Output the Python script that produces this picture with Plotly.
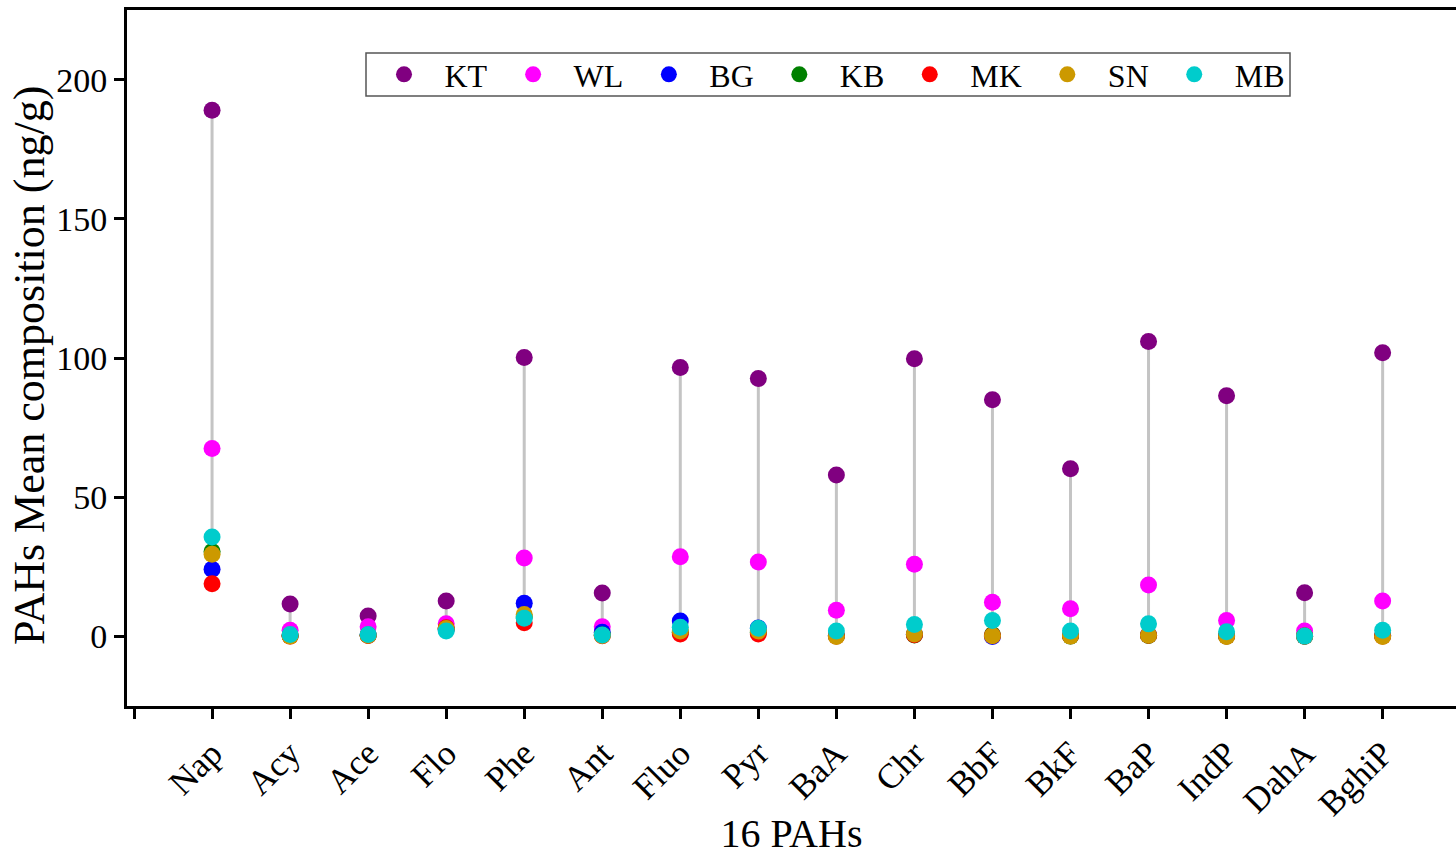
import plotly.graph_objects as go

categories = ["Nap", "Acy", "Ace", "Flo", "Phe", "Ant", "Fluo", "Pyr",
              "BaA", "Chr", "BbF", "BkF", "BaP", "IndP", "DahA", "BghiP"]

KT = [189.0, 11.6, 7.3, 12.7, 100.2, 15.6, 96.6, 92.6, 58.0, 99.7, 85.0, 60.2, 105.9, 86.4, 15.7, 101.9]
WL = [67.5, 2.2, 3.5, 4.5, 28.2, 3.5, 28.6, 26.7, 9.4, 25.9, 12.3, 9.9, 18.5, 5.7, 1.9, 12.7]
BG = [24.1, 0.3, 0.5, 2.5, 11.9, 1.5, 5.5, 3.0, 0.3, 0.8, 0.0, 0.2, 0.5, 0.2, 0.1, 0.3]
KB = [30.5, 0.2, 0.4, 2.8, 7.0, 0.5, 1.5, 1.5, 0.2, 0.5, 0.6, 0.1, 0.3, 0.1, 0.05, 0.2]
MK = [18.9, 0.1, 0.3, 3.1, 4.9, 0.2, 0.9, 0.9, 0.1, 0.6, 0.3, 0.2, 0.4, 0.1, 0.1, 0.1]
SN = [29.5, 0.1, 0.4, 2.8, 7.9, 0.3, 1.9, 1.9, 0.0, 0.9, 0.2, 0.1, 0.4, 0.0, 0.1, 0.0]
MB = [35.7, 0.7, 0.7, 1.9, 6.5, 0.5, 3.3, 2.9, 1.9, 4.3, 5.7, 1.9, 4.5, 1.7, 0.1, 2.2]

series_names = ["KT", "WL", "BG", "KB", "MK", "SN", "MB"]
series_values = [KT, WL, BG, KB, MK, SN, MB]
series_colors = ["#800080", "#FF00FF", "#0000FF", "#008000", "#FF0000", "#CC9900", "#00CCCC"]

y_tick_values = [0, 50, 100, 150, 200]

FONT = "Liberation Serif, Times New Roman, serif"
xs = list(range(len(categories)))

fig = go.Figure()

# stems from min to max of each category
stem_x, stem_y = [], []
for i in xs:
    vals = [s[i] for s in series_values]
    stem_x += [i, i, None]
    stem_y += [min(vals), max(vals), None]
fig.add_trace(go.Scatter(x=stem_x, y=stem_y, mode="lines",
                         line=dict(color="#C4C4C4", width=3),
                         showlegend=False, hoverinfo="skip"))

for name, vals, col in zip(series_names, series_values, series_colors):
    fig.add_trace(go.Scatter(x=xs, y=vals, mode="markers", name=name,
                             marker=dict(color=col, size=17, line=dict(width=0))))

L, T, B = 127, 10, 150
W, H = 1456, 856
pw = W - L
ph = H - T - B

# legend frame
fig.add_shape(type="rect", xref="paper", yref="paper",
              x0=(366 - L) / pw, x1=(1290 - L) / pw,
              y0=1 - (96 - T) / ph, y1=1 - (53 - T) / ph,
              line=dict(color="#555555", width=1.5), fillcolor="rgba(0,0,0,0)")

# y-axis title
fig.add_annotation(text="PAHs Mean composition (ng/g)", textangle=-90,
                   xref="paper", yref="paper",
                   x=(29 - L) / pw, y=1 - (366 - T) / ph,
                   xanchor="center", yanchor="middle", showarrow=False,
                   font=dict(family=FONT, size=44, color="black"))

fig.update_layout(
    width=W, height=H,
    margin=dict(l=L, r=0, t=T, b=B),
    paper_bgcolor="white", plot_bgcolor="white",
    font=dict(family=FONT, color="black", size=34),
    legend=dict(orientation="h", x=(363.5 - L) / pw, y=1 - (47 - T) / ph,
                xanchor="left", yanchor="top",
                font=dict(family=FONT, size=32, color="black"),
                itemwidth=71,
                bgcolor="rgba(0,0,0,0)", borderwidth=0,
                itemclick=False, itemdoubleclick=False),
    showlegend=True,
)

fig.update_xaxes(range=[-1.09, 15.94], tickmode="array",
                 tickvals=[-1] + xs, ticktext=[""] + categories,
                 tickangle=-45, ticks="outside", ticklen=10, tickwidth=2.5,
                 tickcolor="black", showline=True, linecolor="black", linewidth=3,
                 mirror=True, showgrid=False, zeroline=False,
                 tickfont=dict(family=FONT, size=35),
                 title=dict(text="16 PAHs", font=dict(family=FONT, size=40), standoff=0))
fig.update_yaxes(range=[-25, 225], tickmode="array", tickvals=y_tick_values,
                 ticks="outside", ticklen=10, tickwidth=2.5, tickcolor="black",
                 showline=True, linecolor="black", linewidth=3, mirror=False,
                 showgrid=False, zeroline=False,
                 tickfont=dict(family=FONT, size=34))

fig.write_html("out.html")
